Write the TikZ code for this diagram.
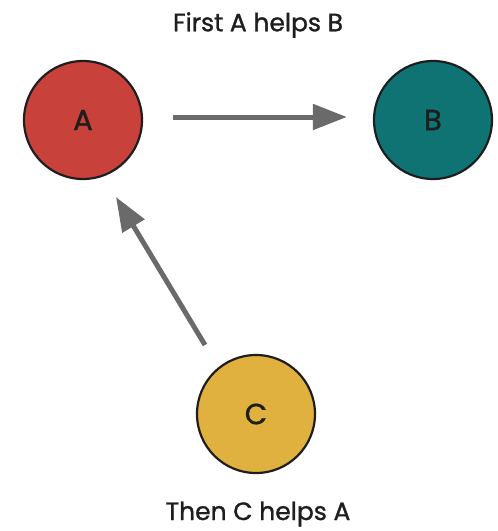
\documentclass[tikz,border=0pt]{standalone}
\usepackage{fontspec}
\setmainfont{Poppins}[FakeBold=1.2]
\usetikzlibrary{arrows.meta,calc}
\definecolor{redA}{HTML}{C8413A}
\definecolor{tealB}{HTML}{0E7372}
\definecolor{goldC}{HTML}{E0B13E}
\definecolor{arrowgrey}{HTML}{6A6A6A}
\definecolor{ink}{HTML}{1E1E1E}
\begin{document}
\begin{tikzpicture}[x=1pt,y=-1pt,
  actor/.style={circle,draw=ink,line width=2.2pt,minimum size=118pt,inner sep=0pt,
    font=\fontsize{29}{33}\selectfont,text=ink},
  helps/.style={draw=arrowgrey,line width=5pt,
    -{Triangle[length=34pt,width=25pt]}},
  caption/.style={font=\fontsize{25}{30}\selectfont,text=ink}]
  \useasboundingbox (0,0) rectangle (498,531);
  \node[actor,fill=redA] (A) at (83,120) {A};
  \node[actor,fill=tealB] (B) at (433,120) {B};
  \node[actor,fill=goldC] (C) at (256,414) {C};
  \node[caption] (top) at (258,25) {First A helps B};
  \node[caption] (bottom) at (258,514) {Then C helps A};
  \draw[helps,shorten <=30pt,shorten >=26pt] (A.east |- 0,117) -- (B.west |- 0,117);
  \draw[helps] ($(C)+(-51,-69)$) -- ($(A)+(33,77)$);
\end{tikzpicture}
\end{document}
